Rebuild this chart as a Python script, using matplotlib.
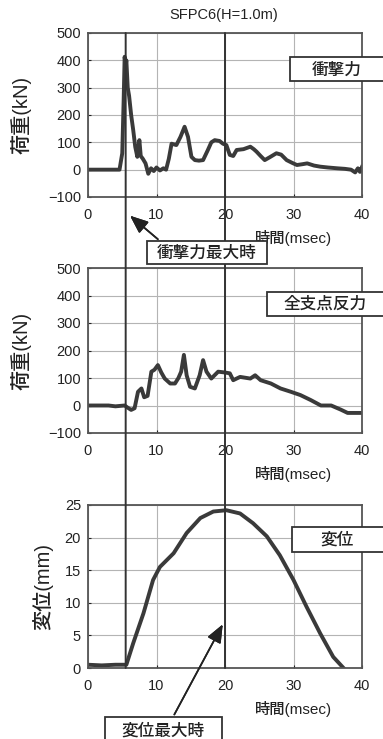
import matplotlib
matplotlib.use("Agg")
import matplotlib.pyplot as plt
from matplotlib.patches import Rectangle, ConnectionPatch

plt.rcParams['font.family'] = ['Liberation Sans', 'Noto Sans CJK JP', 'DejaVu Sans']

# --------- データ ---------
t_imp = [0, 4.6, 5.0, 5.2, 5.35, 5.5, 5.6, 5.8, 6.0, 6.3, 6.6, 6.9, 7.2, 7.5, 7.7,
         8.0, 8.4, 8.8, 9.2, 9.6, 10.0, 10.5, 11.0, 11.4, 11.8, 12.2, 12.9, 13.5, 14.1,
         14.6, 15.1, 15.6, 16.2, 16.8, 17.5, 18.0, 18.5, 19.2, 19.7, 20.2, 20.7, 21.2,
         21.7, 22.7, 23.7, 24.2, 24.6, 25.2, 25.8, 26.5, 27.5, 28.2, 29.0, 29.8, 30.5,
         31.3, 32.0, 33.0, 33.9, 35.0, 36.4, 37.5, 38.4, 39.0, 39.4, 39.7, 40.0]
f_imp = [0, 0, 60, 250, 413, 380, 400, 300, 270, 200, 145, 83, 47, 108, 50,
         40, 23, -15, 5, -5, 8, -3, 5, 0, 40, 95, 90, 120, 157,
         120, 47, 35, 33, 35, 72, 100, 108, 105, 95, 90, 54, 50,
         72, 75, 84, 75, 66, 50, 35, 45, 60, 55, 35, 25, 17,
         20, 23, 15, 11, 8, 5, 3, 0, -10, 5, -8, 10]

t_rea = [0, 3, 4, 5.35, 5.8, 6.3, 6.8, 7.3, 7.8, 8.2, 8.7, 9.25, 9.7, 10.2, 10.7,
         11.2, 12.0, 12.7, 13.2, 13.6, 14.0, 14.4, 14.9, 15.6, 16.3, 16.8, 17.3, 18.0,
         19.0, 20.0, 20.7, 21.2, 22.2, 23.7, 24.4, 25.2, 26.7, 28.1, 29.6, 31.0, 32.5,
         34.0, 35.5, 36.9, 37.9, 40.0]
r_rea = [0, 0, -3, 0, -8, -16, -10, 50, 62, 30, 35, 123, 130, 147, 120,
         98, 80, 80, 100, 123, 184, 110, 68, 62, 110, 165, 123, 98,
         123, 120, 117, 92, 104, 98, 110, 92, 80, 62, 50, 38, 20,
         0, 0, -15, -27, -27]

t_dis = [0, 2, 4, 5.6, 6.6, 8.1, 9.5, 10.5, 12.5, 14.4, 16.4, 18.3, 20.2, 22.2,
         24.1, 26.1, 28.0, 30.0, 31.9, 33.9, 35.8, 37.3]
d_dis = [0.5, 0.4, 0.5, 0.5, 3.8, 8.4, 13.5, 15.5, 17.6, 20.7, 23.0, 24.0, 24.2, 23.7,
         22.2, 20.2, 17.3, 13.5, 9.4, 5.3, 1.7, 0.0]

t_fmax, t_dmax = 5.5, 20.0   # 衝撃力最大時・変位最大時

W, H = 383, 739
LC, GC, TC = '#3a3a3a', '#b4b4b4', '#222222'

def fy(py):  # 上からのピクセル -> figure fraction
    return 1 - py / H

def fx(px):
    return px / W

fig = plt.figure(figsize=(W / 100, H / 100), dpi=100)
fig.patch.set_facecolor('white')

def make_ax(top, bot, ylim, yticks, ylabel, ylab_x):
    ax = fig.add_axes([fx(88), fy(bot), fx(362) - fx(88), fy(top) - fy(bot)])
    ax.set_xlim(0, 40); ax.set_ylim(*ylim)
    ax.set_xticks([0, 10, 20, 30, 40]); ax.set_yticks(yticks)
    ax.grid(True, color=GC, lw=0.8)
    ax.tick_params(direction='in', length=2, labelsize=10.5, colors=TC, pad=5)
    ax.tick_params(axis='x', pad=8)
    for s in ax.spines.values():
        s.set_color('#555555'); s.set_linewidth(1.3)
    ax.set_ylabel(ylabel, fontsize=14.5, fontweight='medium', color=TC)
    ax.yaxis.set_label_coords(ylab_x, 0.5)
    ax.text(0.75, -0.25, '時間(msec)', transform=ax.transAxes, ha='center', va='center',
            fontsize=11, fontweight='medium', color=TC)
    return ax

ax1 = make_ax(33, 197, (-100, 500), range(-100, 501, 100), '荷重(kN)', -0.205)
ax2 = make_ax(268, 433, (-100, 500), range(-100, 501, 100), '荷重(kN)', -0.205)
ax3 = make_ax(505, 668, (0, 25), range(0, 26, 5), '変位(mm)', -0.128)

ax1.plot(t_imp, f_imp, color=LC, lw=2.8)
ax2.plot(t_rea, r_rea, color=LC, lw=2.8)
ax3.plot(t_dis, d_dis, color=LC, lw=2.8)

fig.text(fx(224), fy(15), 'SFPC6(H=1.0m)', ha='center', va='center', fontsize=10.5, color=TC)

# 縦の基準線
for tv in (t_fmax, t_dmax):
    cp = ConnectionPatch((tv, 500), (tv, 0), 'data', 'data', axesA=ax1, axesB=ax3,
                         color='#333333', lw=1.4)
    fig.add_artist(cp)

# ラベル枠
def box(x0, y0, x1, y1, txt, tx, ty):
    fig.add_artist(Rectangle((fx(x0), fy(y1)), fx(x1) - fx(x0), fy(y0) - fy(y1),
                             transform=fig.transFigure, fc='white', ec='#333333', lw=1.3))
    fig.text(fx(tx), fy(ty), txt, ha='center', va='center', fontsize=12,
             fontweight='medium', color=TC)

box(290, 57, 392, 81, '衝撃力', 337, 70)
box(147, 241, 267, 264, '衝撃力最大時', 207, 253)
box(267, 292, 392, 316, '全支点反力', 325, 304)
box(292, 527, 392, 552, '変位', 337, 540)
box(105, 717, 222, 745, '変位最大時', 163, 731)

# 矢印
arrow = dict(arrowstyle='-|>,head_length=1.1,head_width=0.45', color='#222222', lw=1.2)
fig.add_artist(plt.annotate('', xy=(fx(128), fy(214)), xytext=(fx(160), fy(241)),
                            xycoords='figure fraction', textcoords='figure fraction',
                            arrowprops=arrow))
fig.add_artist(plt.annotate('', xy=(fx(224), fy(622)), xytext=(fx(173), fy(717)),
                            xycoords='figure fraction', textcoords='figure fraction',
                            arrowprops=arrow))

fig.savefig('out.png', dpi=100)
